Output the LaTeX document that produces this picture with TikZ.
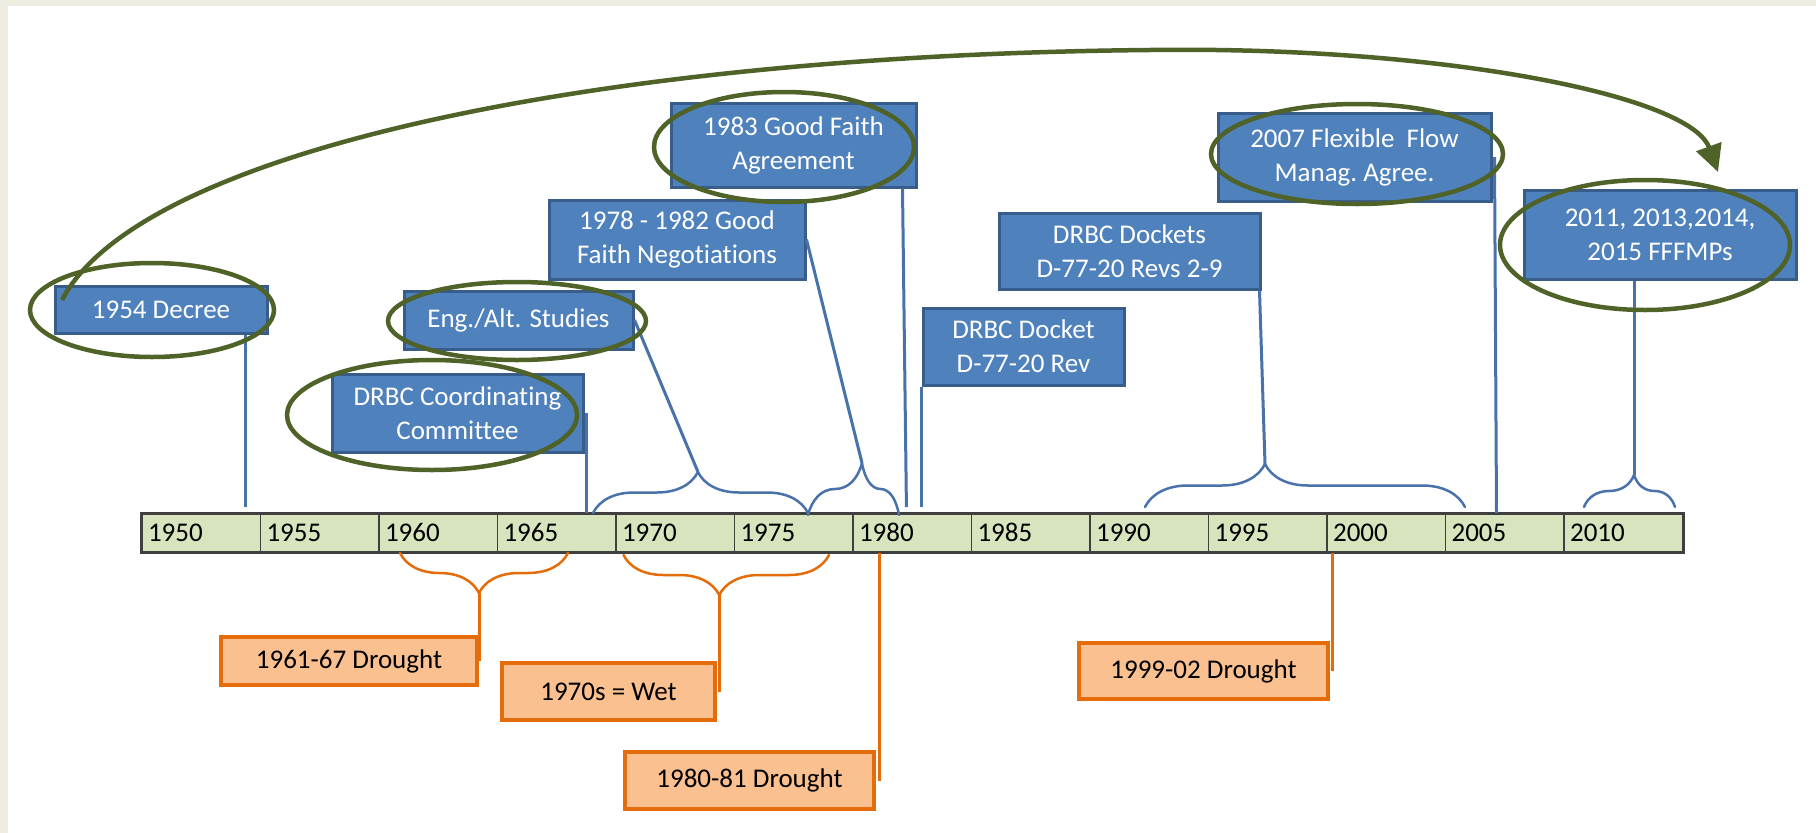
\documentclass[tikz,border=0pt]{standalone}
\usepackage{fontspec}
\setmainfont{Carlito}[Ligatures={NoCommon}]
\usetikzlibrary{shapes.geometric, arrows.meta, decorations.pathreplacing}
\definecolor{boxblue}{HTML}{4F81BD}
\definecolor{boxedge}{HTML}{385D8A}
\definecolor{leadblue}{HTML}{4A72AA}
\definecolor{ringgreen}{HTML}{4F6228}
\definecolor{dryfill}{HTML}{FAC090}
\definecolor{dryedge}{HTML}{E46C0A}
\definecolor{barfill}{HTML}{D7E4BD}
\definecolor{barline}{HTML}{3F3F3F}
\definecolor{framebg}{HTML}{EEEBE0}
\tikzset{
	font=\fontsize{27}{34}\selectfont,
	event/.style={rectangle, draw=boxedge, fill=boxblue, line width=3pt, text=white, align=center, inner sep=0pt},
	dry/.style={rectangle, draw=dryedge, fill=dryfill, line width=4pt, text=black, align=center, inner sep=0pt},
	cell/.style={rectangle, draw=barline, fill=barfill, line width=1.5pt, anchor=north west, minimum height=38pt, text width=106.5pt, inner xsep=6pt, inner ysep=0pt, align=left, text=black},
	ring/.style={ellipse, draw=ringgreen, line width=4.5pt, inner sep=0pt},
	lead/.style={draw=leadblue, line width=3pt},
	dlead/.style={draw=dryedge, line width=3pt},
	upbrace/.style 2 args={draw=leadblue, line width=2.5pt, line cap=round, decorate, decoration={brace, amplitude=#1, aspect=#2}},
	dnbrace/.style 2 args={draw=dryedge, line width=2.5pt, line cap=round, decorate, decoration={brace, mirror, amplitude=#1, aspect=#2}},
	trend/.style={draw=ringgreen, line width=4.5pt, -{Triangle[length=27pt, width=26pt]}}
}

\begin{document}
\begin{tikzpicture}[x=1pt, y=-1pt]
	% frame
	\fill[framebg] (0,0) rectangle (1816,833);
	\fill[white] (8,6) rectangle (1816,833);
	\useasboundingbox (0,0) rectangle (1816,833);

	% time bar
	\foreach \yr [count=\i from 0] in {1950,1955,...,2010}
		\node[cell] (y\yr) at (141.3+\i*118.5, 513) {\yr};
	\draw[barline, line width=2.5pt] (y1950.north west) rectangle (y2010.south east);

	% brace tips
	\coordinate (bt1) at (698,472);
	\coordinate (bt2) at (862,463);
	\coordinate (bt3) at (1265,464);
	\coordinate (bt4) at (1634,475);
	\coordinate (ot1) at (479,593);
	\coordinate (ot2) at (719,595);

	% braces
	\draw[upbrace={41pt}{0.488}] (593,513) -- (808,513);
	\draw[upbrace={52pt}{0.593}] (808,515) -- (899,515);
	\draw[upbrace={43pt}{0.375}] (1145,507) -- (1465,507);
	\draw[upbrace={32pt}{0.55}] (1584,507) -- (1675,507);
	\draw[dnbrace={40pt}{0.47}] (400,553) -- (568,553);
	\draw[dnbrace={40pt}{0.466}] (623.5,555) -- (829,555);

	% events
	\node[event, minimum width=212pt, minimum height=47pt] (dec) at (161,309.5) {1954 Decree};
	\node[event, minimum width=229pt, minimum height=58pt] (eng) at (518.5,320) {Eng./Alt. Studies};
	\node[event, minimum width=251pt, minimum height=78pt] (dcc) at (457.5,413) {DRBC Coordinating\\Committee};
	\node[event, minimum width=256pt, minimum height=79pt] (neg) at (677,239.5) {1978 - 1982 Good\\Faith Negotiations};
	\node[event, minimum width=245pt, minimum height=84pt] (gfa) at (793.5,145) {1983 Good Faith\\Agreement};
	\node[event, minimum width=201pt, minimum height=77pt] (dkt) at (1023.5,346.5) {DRBC Docket\\D-77-20 Rev};
	\node[event, minimum width=261pt, minimum height=76pt] (dks) at (1129.5,251) {DRBC Dockets\\D-77-20 Revs 2-9};
	\node[event, minimum width=273pt, minimum height=88pt] (ffm) at (1354.5,157) {2007 Flexible~ Flow\\Manag.\ Agree.};
	\node[event, minimum width=272pt, minimum height=89pt] (fff) at (1660,234.5) {2011, 2013,2014,\\2015 FFFMPs};

	% hydrology
	\node[dry, minimum width=256pt, minimum height=48pt] (o1) at (349,661) {1961-67 Drought};
	\node[dry, minimum width=213pt, minimum height=57pt] (o2) at (608.5,691.5) {1970s = Wet};
	\node[dry, minimum width=249pt, minimum height=57pt] (o3) at (749.5,780.5) {1980-81 Drought};
	\node[dry, minimum width=249pt, minimum height=56pt] (o4) at (1203.5,671) {1999-02 Drought};

	% leaders
	\draw[lead, shorten >=6pt] ([xshift=-23pt]dec.south east) -- ([xshift=-23pt]dec.south east |- y1950.north);
	\draw[lead] (eng.east) -- (bt1);
	\draw[lead] ([xshift=2pt]dcc.east) -- ([xshift=2pt]dcc.east |- y1965.north);
	\draw[lead] (neg.east) -- (bt2);
	\draw[lead, shorten >=6pt] ([xshift=-15pt]gfa.south east) -- ([xshift=-11pt]gfa.south east |- y1980.north);
	\draw[lead, shorten >=6pt] (dkt.south west) -- (dkt.south west |- y1980.north);
	\draw[lead] ([xshift=-2pt]dks.south east) -- (bt3);
	\draw[lead] ([xshift=2pt]ffm.east) -- ([xshift=4pt]ffm.east |- y2005.north);
	\draw[lead] (bt4 |- fff.south) -- (bt4);
	\draw[dlead] (ot1) -- (ot1 |- o1.east);
	\draw[dlead] (ot2) -- (ot2 |- o2.east);
	\draw[dlead] ([xshift=3pt]o3.east) -- ([xshift=3pt]o3.east |- y1980.south);
	\draw[dlead] ([xshift=2.5pt]o4.east) -- ([xshift=2.5pt]o4.east |- y2000.south);

	% highlights
	\node[ring, minimum width=244pt, minimum height=94pt] (decring) at (152,310) {};
	\node[ring, minimum width=258pt, minimum height=78pt] (engring) at (517,321) {};
	\node[ring, minimum width=290pt, minimum height=110pt] (dccring) at (432,415) {};
	\node[ring, minimum width=260pt, minimum height=110pt] (gfaring) at (784,147) {};
	\node[ring, minimum width=292pt, minimum height=100pt] (ffmring) at (1357,154) {};
	\node[ring, minimum width=290pt, minimum height=130pt] (fffring) at (1645,245) {};

	\coordinate (arcstart) at (62,300);
	\coordinate (arcend) at (1718,172);
	\draw[trend] (arcstart) .. controls (140,150) and (600,55) .. (1150,50)
		.. controls (1440,46) and (1690,95) .. (arcend);
\end{tikzpicture}
\end{document}
